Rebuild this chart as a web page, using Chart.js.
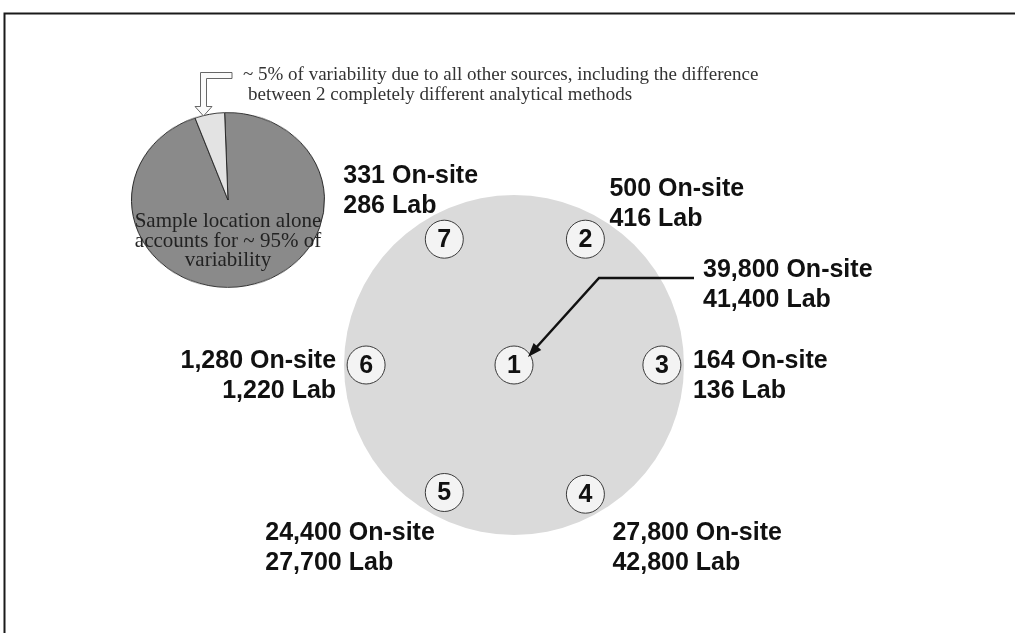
<!DOCTYPE html>
<html>
<head>
<meta charset="utf-8">
<script src="https://cdn.jsdelivr.net/npm/chart.js@4.4.0/dist/chart.umd.min.js"></script>
<style>
    body { margin: 0; background: #fff; }
    #wrap { position: relative; width: 1015px; height: 633px; overflow: hidden; }
    #pie-box { position: absolute; left: 131px; top: 103px; width: 194px; height: 194px; transform: scaleY(0.905); z-index: 0; }
    #main { position: absolute; left: 0; top: 0; z-index: 1; }
</style>
</head>
<body>
<div id="wrap">
    <div id="pie-box"><canvas id="pie" width="194" height="194"></canvas></div>
    <canvas id="main" width="1015" height="633"></canvas>
</div>
<script>
// ----------------------------Data----------------------------

const sites = ['1', '2', '3', '4', '5', '6', '7'];
// sample locations on the plot, in units of the big circle radius
const siteX = [0, 0.42, 0.87, 0.42, -0.41, -0.87, -0.41];
const siteY = [0, 0.74, 0, -0.76, -0.75, 0, 0.74];
const onSite = [39800, 500, 164, 27800, 24400, 1280, 331];
const lab = [41400, 416, 136, 42800, 27700, 1220, 286];

const pieLabels = ['Sample location', 'All other sources'];
const pieValues = [95, 5];
const pieText = ['Sample location alone', 'accounts for ~ 95% of', 'variability'];
const noteText = ['~ 5% of variability due to all other sources, including the difference',
                  'between 2 completely different analytical methods'];

// ----------------------------Layout----------------------------

// label offsets from each site circle (px): dx, dy to first baseline, alignment
const labelPos = [
    { dx: 189, dy: -88, align: 'left' },
    { dx: 24, dy: -43, align: 'left' },
    { dx: 31, dy: 3, align: 'left' },
    { dx: 27, dy: 46, align: 'left' },
    { dx: -179, dy: 47, align: 'left' },
    { dx: -30, dy: 3, align: 'right' },
    { dx: -101, dy: -56, align: 'left' }
];
const PX_PER_UNIT = 170;
const CENTER_X = 514;
const CENTER_Y = 365;

const fmt = n => n.toLocaleString('en-US');

// ----------------------------Pie----------------------------

new Chart(document.getElementById('pie'), {
    type: 'pie',
    data: {
        labels: pieLabels,
        datasets: [{
            data: pieValues,
            backgroundColor: ['#8a8a8a', '#e3e3e3'],
            borderColor: '#2a2a2a',
            borderWidth: 1,
            hoverOffset: 0
        }]
    },
    options: {
        responsive: false,
        animation: false,
        rotation: -2,
        layout: { padding: 0 },
        plugins: { legend: { display: false }, tooltip: { enabled: false } }
    }
});

// ----------------------------Main drawing----------------------------

const annotations = {
    id: 'annotations',
    beforeDatasetsDraw(chart) {
        const c = chart.ctx;
        c.save();
        // frame
        c.strokeStyle = '#1a1a1a';
        c.lineWidth = 2;
        c.beginPath();
        c.moveTo(4.5, 633);
        c.lineTo(4.5, 13.5);
        c.lineTo(1015, 13.5);
        c.stroke();
        c.restore();
    },
    afterDatasetsDraw(chart) {
        const c = chart.ctx;
        const pts = chart.getDatasetMeta(1).data;
        c.save();

        // site numbers
        c.fillStyle = '#111';
        c.font = 'bold 25px "Liberation Sans", Arial, sans-serif';
        c.textAlign = 'center';
        c.textBaseline = 'middle';
        pts.forEach((p, i) => c.fillText(sites[i], p.x, p.y + 1));

        // site labels
        c.textBaseline = 'alphabetic';
        pts.forEach((p, i) => {
            const lp = labelPos[i];
            c.textAlign = lp.align;
            c.fillText(fmt(onSite[i]) + ' On-site', p.x + lp.dx, p.y + lp.dy);
            c.fillText(fmt(lab[i]) + ' Lab', p.x + lp.dx, p.y + lp.dy + 30);
        });

        // leader arrow to site 1
        const p1 = pts[0];
        const sx = p1.x + labelPos[0].dx - 9;
        const sy = p1.y + labelPos[0].dy + 1;
        const bx = sx - 95;
        const tipX = p1.x + 14, tipY = p1.y - 8;
        c.strokeStyle = '#111';
        c.lineWidth = 2.5;
        c.beginPath();
        c.moveTo(sx, sy);
        c.lineTo(bx, sy);
        c.lineTo(tipX + 6, tipY - 7);
        c.stroke();
        const ang = Math.atan2(tipY - sy, tipX - bx);
        c.fillStyle = '#111';
        c.beginPath();
        c.moveTo(tipX, tipY);
        c.lineTo(tipX - 15 * Math.cos(ang - 0.35), tipY - 15 * Math.sin(ang - 0.35));
        c.lineTo(tipX - 15 * Math.cos(ang + 0.35), tipY - 15 * Math.sin(ang + 0.35));
        c.closePath();
        c.fill();

        // pie text
        c.fillStyle = '#222';
        c.font = '21px "Liberation Serif", "Times New Roman", serif';
        c.textAlign = 'center';
        pieText.forEach((t, i) => c.fillText(t, 228, 227 + i * 19.5));

        // note text
        c.fillStyle = '#333';
        c.font = '19px "Liberation Serif", "Times New Roman", serif';
        c.textAlign = 'left';
        c.fillText(noteText[0], 243, 80);
        c.fillText(noteText[1], 248, 100);

        // hollow bent arrow
        c.fillStyle = '#fafafa';
        c.strokeStyle = '#666';
        c.lineWidth = 1;
        c.beginPath();
        c.moveTo(232, 72.5);
        c.lineTo(200.5, 72.5);
        c.lineTo(200.5, 106.5);
        c.lineTo(195, 106.5);
        c.lineTo(203.5, 116);
        c.lineTo(212, 106.5);
        c.lineTo(206.5, 106.5);
        c.lineTo(206.5, 78.5);
        c.lineTo(232, 78.5);
        c.closePath();
        c.fill();
        c.stroke();

        c.restore();
    }
};

const unitRadius = ctx => {
    const s = ctx.chart.scales.x;
    return s.getPixelForValue(1) - s.getPixelForValue(0);
};

new Chart(document.getElementById('main'), {
    type: 'scatter',
    data: {
        datasets: [{
            data: [{ x: 0, y: 0 }],
            order: 2,
            backgroundColor: '#dadada',
            borderWidth: 0,
            pointRadius: unitRadius,
            pointHoverRadius: unitRadius
        }, {
            data: sites.map((s, i) => ({ x: siteX[i], y: siteY[i] })),
            order: 1,
            backgroundColor: '#f3f3f3',
            borderColor: '#3a3a3a',
            borderWidth: 1,
            pointRadius: 19,
            pointHoverRadius: 19
        }]
    },
    options: {
        responsive: false,
        animation: false,
        layout: { padding: 0, autoPadding: false },
        plugins: { legend: { display: false }, tooltip: { enabled: false } },
        scales: {
            x: { display: false, min: -CENTER_X / PX_PER_UNIT, max: (1015 - CENTER_X) / PX_PER_UNIT },
            y: { display: false, min: -(633 - CENTER_Y) / PX_PER_UNIT, max: CENTER_Y / PX_PER_UNIT }
        }
    },
    plugins: [annotations]
});
</script>
</body>
</html>
